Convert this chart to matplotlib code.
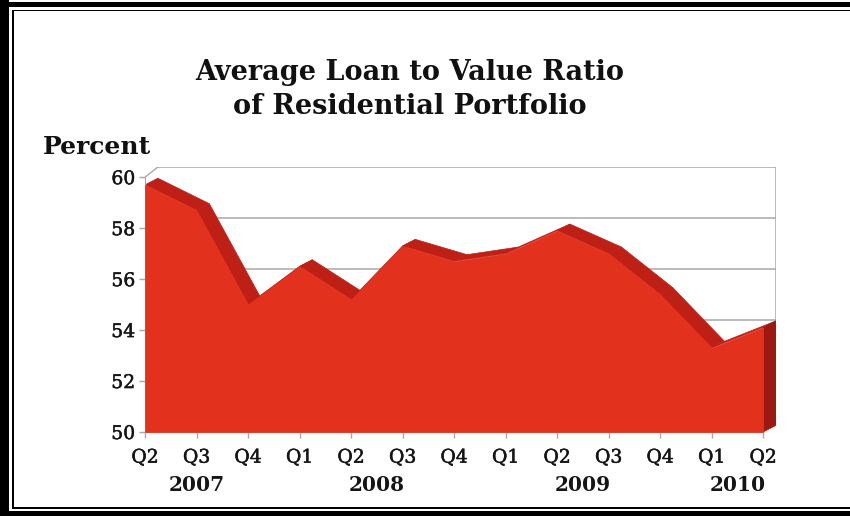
import matplotlib.pyplot as plt
import matplotlib.patheffects as pe
from matplotlib.patches import Rectangle
from matplotlib.transforms import IdentityTransform

# Average loan to value ratio, quarterly
quarters = ["Q2", "Q3", "Q4", "Q1", "Q2", "Q3", "Q4", "Q1", "Q2", "Q3", "Q4", "Q1", "Q2"]
ltv = [59.7, 58.7, 55.0, 56.5, 55.2, 57.3, 56.7, 57.0, 57.9, 57.0, 55.4, 53.3, 54.1]
years = ["2007", "2008", "2009", "2010"]
year_pos = [1, 4.5, 8.5, 11.5]
yticks = [50, 52, 54, 56, 58, 60]

FRONT = "#e2321e"
TOP = "#bf2016"
SIDE = "#9c1810"
GRID = "#a8a8a8"
SERIF = "DejaVu Serif"

# fake 3d depth, in data units (walls sit a bit further back than the ribbon)
WALL_DX, WALL_DY = 0.25, 0.4
DX, DY = 0.25, 0.26

fig = plt.figure(figsize=(8.5, 5.16), dpi=100)
W, H = 850, 516
ax = fig.add_axes([145 / W, 84 / H, 631 / W, 265 / H])

x = list(range(len(ltv)))
xmax = x[-1]
ymin, ymax = yticks[0], yticks[-1]

# back wall grid
for v in yticks:
    ax.plot([WALL_DX, xmax + WALL_DX], [v + WALL_DY, v + WALL_DY], color=GRID, lw=1.1, zorder=1)
    ax.plot([0, WALL_DX], [v, v + WALL_DY], color=GRID, lw=1.0, zorder=1)
ax.plot([xmax + WALL_DX] * 2, [ymin + WALL_DY, ymax + WALL_DY], color=GRID, lw=1.1, zorder=1)

# top surface of the ribbon
for i in range(len(x) - 1):
    xs = [x[i], x[i + 1], x[i + 1] + DX, x[i] + DX]
    ys = [ltv[i], ltv[i + 1], ltv[i + 1] + DY, ltv[i] + DY]
    ax.fill(xs, ys, color=TOP, lw=0.5, zorder=2)

# right end face
ax.fill([xmax, xmax, xmax + DX, xmax + DX],
        [ymin, ltv[-1], ltv[-1] + DY, ymin + DY], color=SIDE, lw=0.5, zorder=2)

# front face
ax.fill_between(x, ymin, ltv, color=FRONT, lw=0.5, zorder=3)

ax.set_xlim(0, xmax + WALL_DX)
ax.set_ylim(ymin, ymax + WALL_DY)
ax.set_xticks(x)
ax.set_xticklabels(quarters)
ax.set_yticks(yticks)
ax.set_yticklabels([str(v) for v in yticks])
ax.tick_params(axis="both", colors=GRID, length=4, width=1, labelcolor="#151515",
               labelsize=13.5)
ax.tick_params(axis="x", pad=8)
ax.tick_params(axis="y", pad=3)
for lab in ax.get_xticklabels() + ax.get_yticklabels():
    lab.set_family(SERIF)
    lab.set_path_effects([pe.withStroke(linewidth=0.35, foreground="#151515")])

for side in ["top", "right"]:
    ax.spines[side].set_visible(False)
ax.spines["left"].set_bounds(ymin, ymax)
ax.spines["bottom"].set_bounds(0, xmax)
for side in ["left", "bottom"]:
    ax.spines[side].set_color(GRID)

for yr, pos in zip(years, year_pos):
    ax.text(pos, -0.2, yr, transform=ax.get_xaxis_transform(), ha="center", va="center",
            fontsize=14.5, fontweight="bold", family=SERIF, color="#151515")

fig.text(410 / W, 1 - 72 / H, "Average Loan to Value Ratio", ha="center", va="center",
         fontsize=19.5, fontweight="bold", family=SERIF, color="#111111")
fig.text(410 / W, 1 - 107 / H, "of Residential Portfolio", ha="center", va="center",
         fontsize=19.5, fontweight="bold", family=SERIF, color="#111111")
fig.text(43 / W, 1 - 147 / H, "Percent", ha="left", va="center",
         fontsize=18, fontweight="bold", family=SERIF, color="#111111")

# double frame
px = IdentityTransform()
for rx, ry, rw, rh in [(0, 0, 9, H), (0, H - 7, W, 5), (0, 0, W, 5),
                       (12, 7, 2, H - 18), (12, H - 11, W, 1.5), (12, 7, W, 2)]:
    fig.add_artist(Rectangle((rx, ry), rw, rh, transform=px, color="black", lw=0))

fig.savefig("out.png", dpi=100)
